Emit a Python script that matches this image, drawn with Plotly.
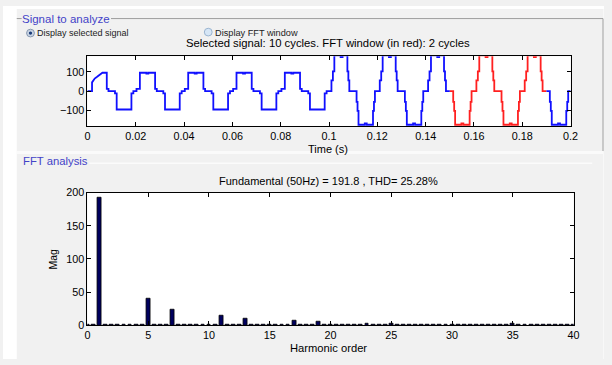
import numpy as np
import plotly.graph_objects as go

W, H = 612, 365


def px(x):
    return x / W


def py(y):
    return 1 - y / H


# ---------------- data ----------------
period = 0.02
cycle_amp = [95, 95, 95, 95, 95, 185, 185, 185, 185, 185]
cycle_kind = ["small"] * 5 + ["large"] * 5
# one cycle of the stepped waveform (phase in fraction of a period, level as fraction of amplitude)
shape_phase = [0.0, 0.015, 0.05, 0.085, 0.22, 0.26, 0.40, 0.42, 0.435, 0.57, 0.59, 0.605, 0.74, 0.78, 0.91, 0.93, 0.95]
shape_small = [0, 0.12, 0.12, 1.0, 0.95, 1.0, 0.12, 0.12, 0, -0.12, -0.12, -1.0, -0.97, -1.0, -0.12, -0.12, 0]
shape_large_phase = [0.0, 0.05, 0.08, 0.11, 0.24, 0.28, 0.38, 0.40, 0.42, 0.57, 0.59, 0.61, 0.74, 0.78, 0.91, 0.93, 0.95]
shape_large = [0, 0.3, 0.55, 1.0, 0.95, 1.0, 0.55, 0.3, 0, -0.3, -0.55, -0.94, -0.9, -0.94, -0.55, -0.3, 0]
# start-up transient of the first half cycle
first_rise_t = [0.0, 0.0019, 0.0019, 0.0023, 0.003, 0.004, 0.005, 0.0062]
first_rise_v = [0, 0, 45, 55, 65, 74, 84, 95]
fft_window = [0.15, 0.19]
t_end = 0.2

harm_order = [i * 0.5 for i in range(81)]
mag = [
    1.5, 1.2, 191.8, 1.2, 1.2, 1.2, 1.2, 1.2, 1.2, 1.2,
    40, 1.2, 1.2, 1.2, 23.5, 1.2, 1.2, 1.2, 1.2, 1.2,
    1.2, 1.2, 15, 1.2, 1.2, 1.2, 10.5, 1.2, 1.2, 1.2,
    1.2, 1.2, 1.2, 1.2, 6.5, 1.2, 1.2, 1.2, 5.5, 1.2,
    1.2, 1.2, 1.2, 1.2, 1.2, 1.2, 2.5, 1.2, 1.2, 1.2,
    2, 1.2, 1.2, 1.2, 1.2, 1.2, 1.2, 1.2, 1.2, 1.2,
    1.2, 1.2, 1.5, 1.2, 1.2, 1.2, 1.2, 1.2, 1.2, 1.2,
    2, 1.2, 1.2, 1.2, 1.2, 1.2, 1.2, 1.2, 1.2, 1.2,
    1.2,
]

x1_ticks = [0, 0.02, 0.04, 0.06, 0.08, 0.1, 0.12, 0.14, 0.16, 0.18, 0.2]
x1_text = ["0", "0.02", "0.04", "0.06", "0.08", "0.1", "0.12", "0.14", "0.16", "0.18", "0.2"]
y1_ticks = [-100, 0, 100]
x2_ticks = [0, 5, 10, 15, 20, 25, 30, 35, 40]
y2_ticks = [0, 50, 100, 150, 200]

title_top = "Selected signal: 10 cycles. FFT window (in red): 2 cycles"
title_bot = "Fundamental (50Hz) = 191.8 , THD= 25.28%"

# ---------------- build waveform ----------------
ts, vs = [], []
prev = 0
for k, amp in enumerate(cycle_amp):
    if cycle_kind[k] == "small":
        ph, lev = shape_phase, shape_small
    else:
        ph, lev = shape_large_phase, shape_large
    t0 = k * period
    start = 0
    if k == 0:
        ts += first_rise_t
        vs += first_rise_v
        prev = first_rise_v[-1]
        start = ph.index(0.40)
    for p, l in zip(ph[start:], lev[start:]):
        t = t0 + p * period
        ts += [t, t]
        vs += [prev, amp * l]
        prev = amp * l
ts.append(t_end)
vs.append(prev)
ts = np.array(ts)
vs = np.array(vs)

a, b = fft_window
va = float(np.interp(a, ts, vs))
vb = float(np.interp(b, ts, vs))
m1 = ts <= a
m2 = (ts >= a) & (ts <= b)
m3 = ts >= b
blue1_t = list(ts[m1]) + [a]
blue1_v = list(vs[m1]) + [va]
red_t = [a] + list(ts[m2]) + [b]
red_v = [va] + list(vs[m2]) + [vb]
blue2_t = [b] + list(ts[m3])
blue2_v = [vb] + list(vs[m3])

# ---------------- figure ----------------
FONT = "Liberation Sans, Arial, sans-serif"
fig = go.Figure()
lw = 1.8
fig.add_trace(go.Scatter(x=blue1_t, y=blue1_v, mode="lines", line=dict(color="#1010ff", width=lw),
                         xaxis="x", yaxis="y", hoverinfo="skip"))
fig.add_trace(go.Scatter(x=red_t, y=red_v, mode="lines", line=dict(color="#ff2020", width=lw),
                         xaxis="x", yaxis="y", hoverinfo="skip"))
fig.add_trace(go.Scatter(x=blue2_t, y=blue2_v, mode="lines", line=dict(color="#1010ff", width=lw),
                         xaxis="x", yaxis="y", hoverinfo="skip"))
fig.add_trace(go.Bar(x=harm_order, y=mag, width=0.32,
                     marker=dict(color="#00005e", line=dict(color="black", width=0.8)),
                     xaxis="x2", yaxis="y2", hoverinfo="skip"))

axc = dict(showline=True, linecolor="black", linewidth=1, mirror="allticks", ticks="inside",
           ticklen=4, tickcolor="black", showgrid=False, zeroline=False,
           tickfont=dict(family=FONT, size=10.8, color="black"))

fig.update_layout(
    width=W, height=H, margin=dict(l=0, r=0, t=0, b=0),
    paper_bgcolor="#f1f1f1", plot_bgcolor="white", showlegend=False,
    xaxis=dict(axc, domain=[px(86), px(578)], range=[0, 0.2], tickvals=x1_ticks, ticktext=x1_text, anchor="y"),
    yaxis=dict(axc, domain=[py(124), py(52)], range=[-180, 180], tickvals=y1_ticks, anchor="x"),
    xaxis2=dict(axc, domain=[px(86), px(581)], range=[0, 40], tickvals=x2_ticks, anchor="y2"),
    yaxis2=dict(axc, domain=[py(330), py(193)], range=[0, 200], tickvals=y2_ticks, anchor="x2"),
    bargap=0,
)

shapes = []
# white borders of the screenshot
shapes.append(dict(type="rect", xref="paper", yref="paper", x0=0, x1=px(14), y0=0, y1=1,
                   fillcolor="white", line=dict(width=0), layer="below"))
shapes.append(dict(type="rect", xref="paper", yref="paper", x0=0, x1=1, y0=py(3), y1=1,
                   fillcolor="white", line=dict(width=0), layer="below"))
shapes.append(dict(type="rect", xref="paper", yref="paper", x0=px(611.5), x1=1, y0=0, y1=1,
                   fillcolor="white", line=dict(width=0), layer="below"))
# group box of "Signal to analyze"
gcol = "#9c9c9c"
shapes.append(dict(type="line", xref="paper", yref="paper", x0=px(14), x1=px(19), y0=py(13), y1=py(13),
                   line=dict(color=gcol, width=1), layer="below"))
shapes.append(dict(type="line", xref="paper", yref="paper", x0=px(110), x1=px(611), y0=py(13), y1=py(13),
                   line=dict(color=gcol, width=1), layer="below"))
shapes.append(dict(type="line", xref="paper", yref="paper", x0=px(611), x1=px(611), y0=py(13), y1=py(150),
                   line=dict(color=gcol, width=1), layer="below"))
# separator band between panels
shapes.append(dict(type="rect", xref="paper", yref="paper", x0=px(14), x1=px(611), y0=py(153), y1=py(150),
                   fillcolor="#fafafa", line=dict(width=0), layer="below"))
shapes.append(dict(type="line", xref="paper", yref="paper", x0=px(88), x1=px(600), y0=py(162.5), y1=py(162.5),
                   line=dict(color="#fbfbfb", width=1.5), layer="below"))
# radio buttons
shapes.append(dict(type="circle", xref="paper", yref="paper", x0=px(24), x1=px(32), y0=py(32), y1=py(24),
                   fillcolor="#c8d4e4", line=dict(color="#8898b0", width=1), layer="below"))
shapes.append(dict(type="circle", xref="paper", yref="paper", x0=px(26.3), x1=px(29.7), y0=py(29.7), y1=py(26.3),
                   fillcolor="#1c3c78", line=dict(width=0), layer="below"))
shapes.append(dict(type="circle", xref="paper", yref="paper", x0=px(205), x1=px(213), y0=py(31), y1=py(23),
                   fillcolor="#d6e6f6", line=dict(color="#9ab4d0", width=1), layer="below"))
fig.update_layout(shapes=shapes)

ann = []


def txt(x, y, s, size, color="black", xanchor="left", angle=0):
    ann.append(dict(x=px(x), y=py(y), xref="paper", yref="paper", text=s, showarrow=False,
                    xanchor=xanchor, yanchor="middle", textangle=angle, borderpad=0, borderwidth=0,
                    font=dict(family=FONT, size=size, color=color)))


txt(19, 13, "Signal to analyze", 11.5, "#4343c8")
txt(35, 28, "Display selected signal", 9, "#222222")
txt(216, 27.5, "Display FFT window", 9.2, "#222222")
txt(331, 38.5, title_top, 11.3, "black", "center")
txt(331, 148, "Time (s)", 11, "black", "center")
txt(20, 160, "FFT analysis", 11.3, "#4343c8")
txt(331, 181, title_bot, 11, "black", "center")
txt(331, 354, "Harmonic order", 11.2, "black", "center")
txt(51, 262, "Mag", 10.5, "black", "center", -90)
fig.update_layout(annotations=ann)

fig.write_html("out.html")
